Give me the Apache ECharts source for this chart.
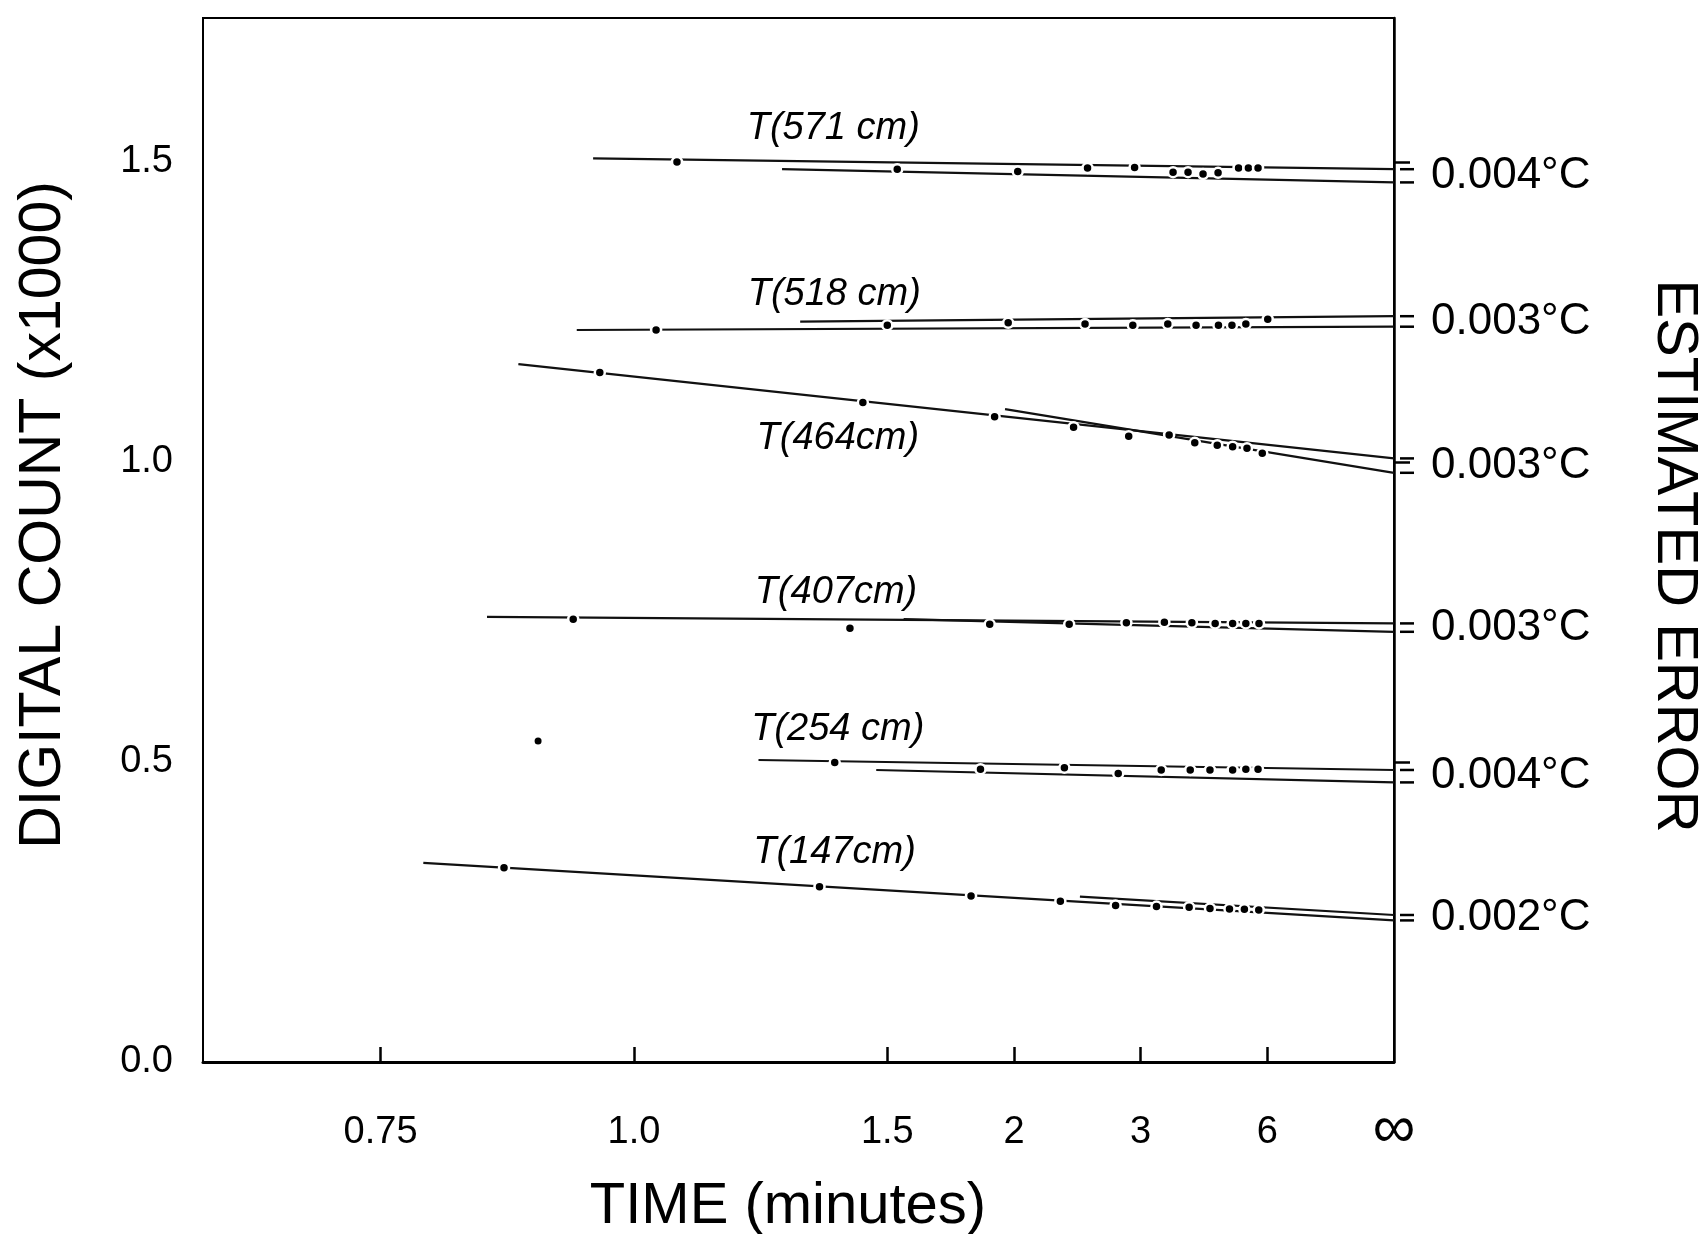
<!DOCTYPE html>
<html>
<head>
<meta charset="utf-8">
<script src="https://cdn.jsdelivr.net/npm/echarts@6/dist/echarts.min.js"></script>
<style>
  html, body { margin: 0; padding: 0; background: #ffffff; }
  #chart { width: 1699px; height: 1234px; }
</style>
</head>
<body>
<div id="chart"></div>
<script>
// ---------------- DATA ----------------
const seriesNames = ['T(571 cm)', 'T(518 cm)', 'T(464cm)', 'T(407cm)', 'T(254 cm)', 'T(147cm)'];
const errorLabels = ['0.004°C', '0.003°C', '0.003°C', '0.003°C', '0.004°C', '0.002°C'];

// reading times (minutes) and digital counts (x1000)
const time571 = [1.06, 1.53, 2.02, 2.48, 2.93, 3.44, 3.69, 3.98, 4.32, 4.89, 5.22, 5.59];
const count571 = [1.500, 1.488, 1.484, 1.490, 1.491, 1.483, 1.483, 1.480, 1.482, 1.490, 1.490, 1.490];

const time518 = [1.03, 1.50, 1.97, 2.46, 2.91, 3.36, 3.84, 4.33, 4.69, 5.13, 6.02];
const count518 = [1.220, 1.228, 1.232, 1.230, 1.228, 1.230, 1.228, 1.228, 1.228, 1.230, 1.238];

const time464 = [0.957, 1.431, 1.903, 2.372, 2.865, 3.38, 3.815, 4.30, 4.71, 5.17, 5.77];
const count464 = [1.149, 1.099, 1.0755, 1.058, 1.043, 1.045, 1.032, 1.028, 1.0255, 1.023, 1.0145];

const time407 = [0.926, 1.397, 1.88, 2.34, 2.84, 3.31, 3.76, 4.25, 4.71, 5.13, 5.63];
const count407 = [0.738, 0.723, 0.7295, 0.7295, 0.732, 0.733, 0.732, 0.731, 0.731, 0.731, 0.731];

const time254 = [1.359, 1.838, 2.306, 2.756, 3.265, 3.73, 4.13, 4.71, 5.13, 5.59];
const count254 = [0.499, 0.488, 0.4905, 0.481, 0.4867, 0.4867, 0.4867, 0.4867, 0.4878, 0.4878];

const time147 = [0.854, 1.323, 1.797, 2.278, 2.73, 3.20, 3.71, 4.13, 4.62, 5.08, 5.62];
const count147 = [0.3238, 0.292, 0.2767, 0.268, 0.261, 0.259, 0.258, 0.256, 0.255, 0.2545, 0.2533];

// isolated reading
const strayTime = [0.888];
const strayCount = [0.535];

// extrapolation lines: start (time, count) and count reached at t = infinity
const fitStartTimeA  = [0.949, 0.93, 0.868, 0.838, 1.196, 0.783];
const fitStartCountA = [1.506, 1.220, 1.163, 0.742, 0.5033, 0.332];
const fitInfCountA   = [1.488, 1.2255, 1.006, 0.731, 0.4867, 0.236];
const fitStartTimeB  = [1.242, 1.28, 1.954, 1.55, 1.468, 2.42];
const fitStartCountB = [1.488, 1.234, 1.088, 0.738, 0.4867, 0.2755];
const fitInfCountB   = [1.466, 1.243, 0.982, 0.717, 0.466, 0.245];

// axis ticks
const xTickTimes  = [0.75, 1.0, 1.5, 2, 3, 6, Infinity];
const xTickLabels = ['0.75', '1.0', '1.5', '2', '3', '6', '∞'];
const yTickValues = [0, 0.5, 1.0, 1.5];
const yTickLabels = ['0.0', '0.5', '1.0', '1.5'];

// ---------------- LAYOUT / STYLE ----------------
const INK = '#000000';
const FONT = 'Liberation Sans';
const times = [time571, time518, time464, time407, time254, time147];
const counts = [count571, count518, count464, count407, count254, count147];
// label anchor: index of reading + pixel offset of label centre from it
const labelAnchor = [1, 1, 1, 1, 0, 1];
const labelOffset = [[-64, -41], [-53, -31], [-25, 36], [-14, -36], [3, -33], [15, -34]];

const inv = t => 1 / t;   // axis is linear in reciprocal time (t = ∞ at 0)

const chart = echarts.init(document.getElementById('chart'), null, { renderer: 'canvas' });

const series = [];
for (let i = 0; i < 6; i++) {
  series.push({
    type: 'line', name: seriesNames[i] + ' fit A', silent: true, symbol: 'none', z: 2,
    lineStyle: { color: '#111111', width: 2.2 },
    data: [[inv(fitStartTimeA[i]), fitStartCountA[i]], [inv(Infinity), fitInfCountA[i]]]
  });
  series.push({
    type: 'line', name: seriesNames[i] + ' fit B', silent: true, symbol: 'none', z: 2,
    lineStyle: { color: '#111111', width: 2.2 },
    data: [[inv(fitStartTimeB[i]), fitStartCountB[i]], [inv(Infinity), fitInfCountB[i]]]
  });
}
for (let i = 0; i < 6; i++) {
  series.push({
    type: 'scatter', name: seriesNames[i], z: 4, symbol: 'circle', symbolSize: 10,
    itemStyle: { color: INK, borderColor: '#ffffff', borderWidth: 2.5, opacity: 1 },
    data: times[i].map((t, j) => {
      const item = { value: [inv(t), counts[i][j]] };
      if (j === labelAnchor[i]) {
        item.label = {
          show: true, position: 'inside', formatter: seriesNames[i],
          offset: labelOffset[i], color: INK, fontFamily: FONT, fontStyle: 'italic',
          fontSize: 38
        };
      }
      return item;
    })
  });
}
series.push({
  type: 'scatter', name: 'stray', z: 4, symbolSize: 7,
  itemStyle: { color: INK, opacity: 1 },
  data: strayTime.map((t, j) => [inv(t), strayCount[j]])
});
// "=" marks at the extrapolated values, just outside the right frame
const infMarks = [];
for (let i = 0; i < 6; i++) {
  infMarks.push([inv(Infinity), fitInfCountA[i]]);
  infMarks.push([inv(Infinity), fitInfCountB[i]]);
}
series.push({
  type: 'scatter', name: 'inf marks', z: 4, clip: false, silent: true,
  symbol: 'rect', symbolSize: [14, 2.5], symbolOffset: [13, 0],
  itemStyle: { color: INK, opacity: 1 },
  data: infMarks
});
series.push({
  type: 'scatter', name: 'error labels', z: 4, clip: false, silent: true,
  symbol: 'circle', symbolSize: 0,
  itemStyle: { color: INK, opacity: 1 },
  label: {
    show: true, position: 'right', distance: 37, color: INK, opacity: 1,
    fontFamily: FONT, fontSize: 44,
    formatter: p => errorLabels[p.dataIndex]
  },
  data: errorLabels.map((_, i) => [inv(Infinity), (fitInfCountA[i] + fitInfCountB[i]) / 2])
});

const option = {
  backgroundColor: '#ffffff',
  animation: false,
  grid: { left: 203, right: 305, top: 18, bottom: 172, show: true, borderColor: INK, borderWidth: 2, backgroundColor: 'transparent' },
  xAxis: {
    type: 'value', inverse: true, min: 0, max: 1.567, position: 'bottom',
    splitLine: { show: false },
    axisLine: { show: true, lineStyle: { color: INK, width: 3 } },
    axisTick: { show: true, inside: true, length: 15, lineStyle: { color: INK, width: 2.5 },
      customValues: xTickTimes.filter(t => isFinite(t)).map(inv) },
    axisLabel: {
      show: true, margin: 48, color: INK, fontFamily: FONT, fontSize: 38, lineHeight: 46,
      customValues: xTickTimes.map(inv),
      formatter: v => {
        const k = xTickTimes.findIndex(t => Math.abs(inv(t) - v) < 1e-6);
        if (k < 0) return '';
        return isFinite(xTickTimes[k]) ? xTickLabels[k] : '{inf|' + xTickLabels[k] + '}';
      },
      rich: { inf: { fontSize: 60, lineHeight: 40, fontFamily: FONT, color: INK } }
    }
  },
  yAxis: {
    type: 'value', min: 0, max: 1.74,
    splitLine: { show: false },
    axisLine: { show: true, lineStyle: { color: INK, width: 2.5 } },
    axisTick: { show: true, inside: true, length: 16, lineStyle: { color: INK, width: 2.5 },
      customValues: yTickValues.filter(v => v > 0) },
    axisLabel: {
      show: true, margin: 30, color: INK, fontFamily: FONT, fontSize: 38,
      customValues: yTickValues,
      formatter: v => {
        const k = yTickValues.findIndex(y => Math.abs(y - v) < 1e-6);
        return k < 0 ? '' : yTickLabels[k];
      }
    }
  },
  graphic: [
    { type: 'text', x: 44, y: 515, rotation: Math.PI / 2, silent: true,
      style: { text: 'DIGITAL COUNT (x1000)', fill: INK, fontFamily: FONT, fontSize: 59,
        font: '59px "Liberation Sans"', align: 'center', verticalAlign: 'middle',
        textAlign: 'center', textVerticalAlign: 'middle' } },
    { type: 'text', x: 1674, y: 556, rotation: -Math.PI / 2, silent: true,
      style: { text: 'ESTIMATED ERROR', fill: INK, fontFamily: FONT, fontSize: 58,
        font: '58px "Liberation Sans"', align: 'center', verticalAlign: 'middle',
        textAlign: 'center', textVerticalAlign: 'middle' } },
    { type: 'text', x: 788, y: 1207, silent: true,
      style: { text: 'TIME (minutes)', fill: INK, fontFamily: FONT, fontSize: 58,
        font: '58px "Liberation Sans"', align: 'center', verticalAlign: 'middle',
        textAlign: 'center', textVerticalAlign: 'middle' } }
  ],
  series: series
};
chart.setOption(option);
</script>
</body>
</html>
